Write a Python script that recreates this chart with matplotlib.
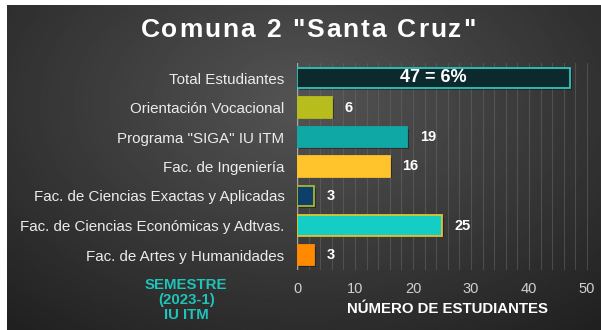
import numpy as np
import matplotlib.pyplot as plt

# Datos de la Comuna 2
categorias = [
    'Total Estudiantes',
    'Orientación Vocacional',
    'Programa "SIGA" IU ITM',
    'Fac. de Ingeniería',
    'Fac. de Ciencias Exactas y Aplicadas',
    'Fac. de Ciencias Económicas y Adtvas.',
    'Fac. de Artes y Humanidades',
]
valores = [47, 6, 19, 16, 3, 25, 3]
porcentaje_total = 6
titulo = 'Comuna 2 "Santa Cruz"'

relleno = ['#0c2a2e', '#b6bd1c', '#10a8a4', '#ffc42b', '#0e3e6a', '#14cec6', '#ff8a00']
borde = ['#2cc6bc', '#b6bd1c', '#10a8a4', '#ffc42b', '#a9b62a', '#e3c22e', '#ff8a00']

plt.rcParams['font.family'] = ['Liberation Sans', 'DejaVu Sans']

fig = plt.figure(figsize=(6.01, 3.3), dpi=100, facecolor='white')

# Fondo oscuro con degradado radial
bg = fig.add_axes([7 / 601, 0, 1 - 7 / 601, 1 - 5 / 330])
yy, xx = np.mgrid[0:1:200j, 0:1:300j]
r = np.sqrt(((xx - 0.5) / 0.75) ** 2 + ((yy - 0.3) / 0.9) ** 2)
grad = np.clip(1 - r, 0, 1)
bg.imshow(0.13 + 0.2 * grad, cmap='gray', vmin=0, vmax=1, aspect='auto', extent=[0, 1, 1, 0])
bg.set_axis_off()

# Título con espaciado entre letras
renderer = fig.canvas.get_renderer()
espacio = 1.9
anchos = []
for ch in titulo:
    t = fig.text(0, 0, ch.replace(' ', '\u00a0'), fontsize=19, fontweight='bold')
    anchos.append(t.get_window_extent(renderer).width)
    t.remove()
total = sum(anchos) + espacio * (len(titulo) - 1)
x0 = 308 - total / 2
for ch, w in zip(titulo, anchos):
    fig.text(x0 / 601, 1 - 30 / 330, ch, color='white', fontsize=19,
             fontweight='bold', ha='left', va='center')
    x0 += w + espacio

ax = fig.add_axes([297 / 601, 1 - 269.75 / 330, (598.6 - 297) / 601, (269.75 - 63.25) / 330])
ax.patch.set_alpha(0)

y = np.arange(len(valores))
# sombra ligera detrás de cada barra
ax.barh(y + 0.06, valores, left=0.35, height=0.68, color='black', alpha=0.35, zorder=2)
ax.barh(y, valores, height=0.68, color=relleno, edgecolor=borde, linewidth=1.3, zorder=3)

for i, v in enumerate(valores):
    if i == 0:
        ax.text(v / 2, i, f'{v} = {porcentaje_total}%', color='white', fontsize=13,
                fontweight='bold', ha='center', va='center', zorder=4)
    else:
        ax.annotate(str(v), (v, i), xytext=(9, 0), textcoords='offset points',
                    color='white', fontsize=10.5, fontweight='bold', va='center')

ax.set_ylim(len(valores) - 0.5, -0.5)
ax.set_xlim(0, 52)
ax.set_yticks(y)
ax.set_yticklabels(categorias, color='#ececec', fontsize=10.9)
ax.set_xticks(range(0, 51, 10))
ax.set_xticks(range(0, 51, 2), minor=True)
ax.tick_params(axis='x', colors='#d0d0d0', labelsize=10.5, length=0, pad=9, which='both')
ax.tick_params(axis='y', length=0, pad=9)
ax.grid(axis='x', which='both', color='#6a6a6a', linewidth=0.8, alpha=0.5, zorder=0)
ax.set_axisbelow(True)
for s in ax.spines.values():
    s.set_visible(False)
ax.axvline(0, color='#a8a8a8', linewidth=1.0, zorder=1)

ax.set_xlabel('NÚMERO DE ESTUDIANTES', color='white', fontsize=10.8,
              fontweight='bold', labelpad=4)

fig.text(0.31, 1 - 300 / 330, 'SEMESTRE\n(2023-1)\nIU ITM', color='#1ec3b9', fontsize=10.8,
         fontweight='bold', ha='center', va='center', linespacing=1.05)

fig.savefig('out.png', dpi=100, facecolor='white')
